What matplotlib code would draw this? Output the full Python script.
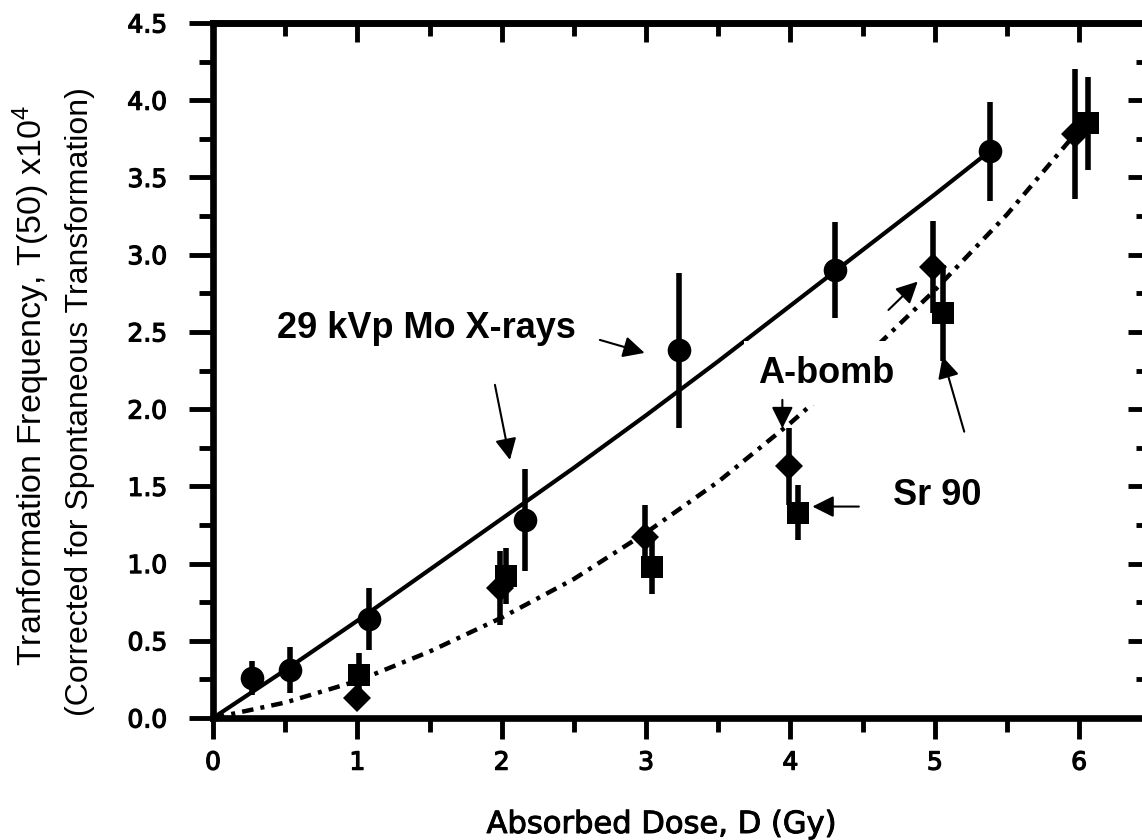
import matplotlib
matplotlib.use("Agg")
import matplotlib.pyplot as plt
import matplotlib.patheffects as pe
from matplotlib.ticker import MultipleLocator, FormatStrFormatter

plt.rcParams['mathtext.fontset'] = 'custom'
plt.rcParams['mathtext.rm'] = 'Liberation Sans'
plt.rcParams['mathtext.it'] = 'Liberation Sans:italic'
plt.rcParams['mathtext.bf'] = 'Liberation Sans:bold'

# ---------------- data ----------------
mo_dose = [0.27, 0.53, 1.08, 2.16, 3.23, 4.31, 5.38]
mo_tf = [0.26, 0.31, 0.64, 1.28, 2.38, 2.90, 3.67]
mo_err = [0.11, 0.15, 0.20, 0.33, 0.50, 0.31, 0.32]

abomb_dose = [1.00, 1.99, 2.99, 3.99, 4.99, 5.97]
abomb_tf = [0.13, 0.84, 1.17, 1.63, 2.92, 3.78]
abomb_err = [0.06, 0.24, 0.21, 0.25, 0.30, 0.42]

sr_dose = [1.01, 2.03, 3.04, 4.05, 5.06, 6.06]
sr_tf = [0.28, 0.92, 0.98, 1.33, 2.62, 3.85]
sr_err = [0.14, 0.18, 0.18, 0.18, 0.31, 0.30]

mo_fit_dose = [0, 0.5, 1, 1.5, 2, 2.5, 3, 3.5, 4, 4.5, 5, 5.38]
mo_fit_tf = [0, 0.31, 0.63, 0.96, 1.29, 1.62, 1.96, 2.31, 2.67, 3.03, 3.39, 3.67]

low_fit_dose = [0, 0.5, 1, 1.5, 2, 2.5, 3, 3.5, 4, 4.5, 5, 5.5, 5.98]
low_fit_tf = [0, 0.10, 0.24, 0.43, 0.65, 0.90, 1.20, 1.53, 1.91, 2.32, 2.77, 3.26, 3.79]

x_label = "Absorbed Dose, D (Gy)"
y_label_1 = "Tranformation Frequency, T(50) x10$^{4}$"
y_label_2 = "(Corrected for Spontaneous Transformation)"

# ---------------- figure ----------------
W, H = 1142, 840
fig = plt.figure(figsize=(W / 100, H / 100), dpi=100)
ax = fig.add_axes([213 / W, 1 - 718 / H, 934 / W, 695 / H])
ax.set_xlim(0, 6.47)
ax.set_ylim(0, 4.5)

# fit curves
ax.plot(mo_fit_dose, mo_fit_tf, color='black', lw=3.0, solid_capstyle='butt', zorder=2)
ax.plot(low_fit_dose, low_fit_tf, color='black', lw=3.2,
        linestyle=(0, (2.6, 1.6, 0.9, 1.6)), dash_capstyle='butt', zorder=2)

# error bars
for xs, ys, es in [(mo_dose, mo_tf, mo_err), (abomb_dose, abomb_tf, abomb_err),
                   (sr_dose, sr_tf, sr_err)]:
    ax.errorbar(xs, ys, yerr=es, fmt='none', ecolor='black', elinewidth=4, capsize=0, zorder=3)

# markers
ax.plot(mo_dose, mo_tf, 'o', ms=17, color='black', mew=0, zorder=4)
ax.plot(abomb_dose, abomb_tf, 'D', ms=14, color='black', mew=0, zorder=4)
ax.plot(sr_dose, sr_tf, 's', ms=15.5, color='black', mew=0, zorder=4)

# spines & ticks
for s in ax.spines.values():
    s.set_linewidth(4.8)

ax.xaxis.set_major_locator(MultipleLocator(1))
ax.xaxis.set_minor_locator(MultipleLocator(0.5))
ax.yaxis.set_major_locator(MultipleLocator(0.5))
ax.yaxis.set_minor_locator(MultipleLocator(0.25))
ax.yaxis.set_major_formatter(FormatStrFormatter('%.1f'))

ax.tick_params(axis='x', which='major', direction='out', length=15, width=3.5,
               top=False, pad=8.5, labelsize=18)
ax.tick_params(axis='x', which='minor', direction='out', length=10, width=3.5, top=False)
ax.tick_params(axis='y', which='major', direction='out', length=17, width=3.5,
               right=False, pad=16, labelsize=18)
ax.tick_params(axis='y', which='minor', direction='out', length=10, width=3.5, right=False)
thick = [pe.withStroke(linewidth=0.9, foreground='black')]
for lab in ax.get_xticklabels() + ax.get_yticklabels():
    lab.set_family('DejaVu Sans')
    lab.set_path_effects(thick)

secx = ax.secondary_xaxis('top')
secx.xaxis.set_major_locator(MultipleLocator(1))
secx.xaxis.set_minor_locator(MultipleLocator(0.5))
secx.tick_params(which='major', direction='in', length=14, width=3.5, labeltop=False)
secx.tick_params(which='minor', direction='in', length=9, width=3.5)
for s in secx.spines.values():
    s.set_linewidth(4.8)

secy = ax.secondary_yaxis('right')
secy.yaxis.set_major_locator(MultipleLocator(0.5))
secy.yaxis.set_minor_locator(MultipleLocator(0.25))
secy.tick_params(which='major', direction='in', length=14, width=3.5, labelright=False)
secy.tick_params(which='minor', direction='in', length=8, width=3.5)
for s in secy.spines.values():
    s.set_linewidth(4.8)

# annotation labels
lab_kw = dict(ha='center', va='baseline', fontsize=26, fontweight='bold',
              family='Liberation Sans', color='black')
ax.text(1.478, 2.461, '29 kVp Mo X-rays', zorder=6, **lab_kw)
ax.text(4.249, 2.170, 'A-bomb', zorder=5,
        bbox=dict(boxstyle='square,pad=0.4', fc='white', ec='none'), **lab_kw)
ax.text(5.017, 1.380, 'Sr 90', zorder=6, **lab_kw)

arrow_kw = dict(arrowstyle='-|>,head_length=0.5,head_width=0.25', lw=1.5, color='black',
                shrinkA=0, shrinkB=0, mutation_scale=26)
arrows = [((2.68, 2.448), (2.99, 2.364)),
          ((1.953, 2.157), (2.057, 1.671)),
          ((4.679, 2.642), (4.882, 2.826)),
          ((3.944, 2.060), (3.944, 1.876)),
          ((5.204, 1.854), (5.054, 2.340)),
          ((4.474, 1.369), (4.152, 1.369))]
for tail, head in arrows:
    ax.annotate('', xy=head, xytext=tail, arrowprops=arrow_kw, zorder=7)

# axis titles
fig.text(661 / W, 1 - 833 / H, x_label, ha='center', va='baseline', fontsize=22,
         family='DejaVu Sans', path_effects=[pe.withStroke(linewidth=0.7, foreground='black')])
fig.text(42 / W, 1 - 385.5 / H, y_label_1, rotation=90, rotation_mode='anchor',
         ha='center', va='baseline', fontsize=24.5, family='Liberation Sans')
fig.text(88 / W, 1 - 402 / H, y_label_2, rotation=90, rotation_mode='anchor',
         ha='center', va='baseline', fontsize=23, family='Liberation Sans')

fig.savefig('out.png', dpi=100)
